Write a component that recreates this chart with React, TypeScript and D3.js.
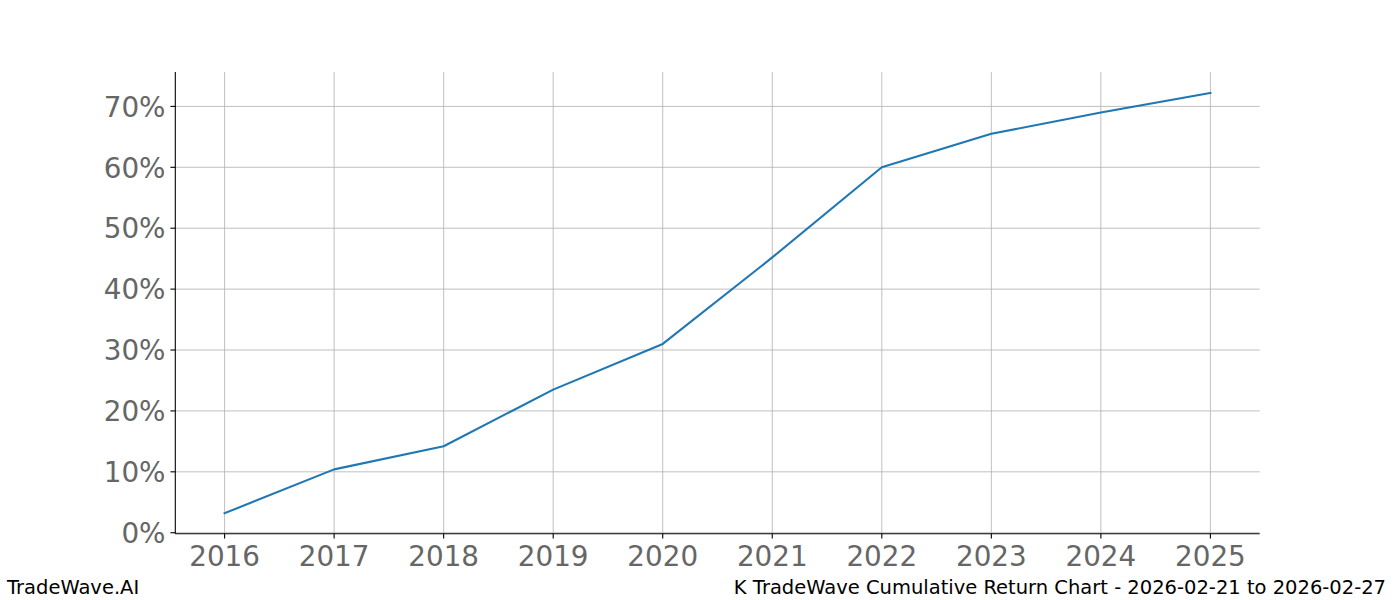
import React from "react";
import * as d3 from "d3";

const years = [2016, 2017, 2018, 2019, 2020, 2021, 2022, 2023, 2024, 2025];
const returns = [3.2, 10.4, 14.2, 23.5, 31.0, 45.2, 60.0, 65.5, 69.0, 72.2];
const yTicks = [0, 10, 20, 30, 40, 50, 60, 70];
const xTicks = [2016, 2017, 2018, 2019, 2020, 2021, 2022, 2023, 2024, 2025];
const leftLabel = "TradeWave.AI";
const rightLabel = "K TradeWave Cumulative Return Chart - 2026-02-21 to 2026-02-27";

const W = 1400;
const H = 600;
const L = 175.3;
const R = 1259.7;
const T = 72;
const B = 533.7;
const FONT = "'DejaVu Sans', sans-serif";

export default function App() {
  const x = d3.scaleLinear().domain([2015.55, 2025.45]).range([L, R]);
  const y = d3.scaleLinear().domain([-0.16, 75.65]).range([B, T]);
  const line = d3
    .line<number>()
    .x((_, i) => x(years[i]))
    .y((d) => y(d));
  const path = line(returns) || "";

  return (
    <svg
      width={W}
      height={H}
      style={{ position: "absolute", left: 0, top: 0, background: "#fff" }}
    >
      <rect x={0} y={0} width={W} height={H} fill="#fff" />
      {xTicks.map((t) => (
        <line key={"gx" + t} x1={x(t)} x2={x(t)} y1={T} y2={B} stroke="#b0b0b0" strokeWidth={0.8} />
      ))}
      {yTicks.map((t) => (
        <line key={"gy" + t} x1={L} x2={R} y1={y(t)} y2={y(t)} stroke="#b0b0b0" strokeWidth={0.8} />
      ))}
      <path d={path} fill="none" stroke="#1f77b4" strokeWidth={2.1} strokeLinejoin="round" strokeLinecap="square" />
      <line x1={L} x2={L} y1={T} y2={B} stroke="#000" strokeWidth={1.1} />
      <line x1={L} x2={R} y1={B} y2={B} stroke="#000" strokeWidth={1.1} />
      {xTicks.map((t) => (
        <g key={"tx" + t}>
          <line x1={x(t)} x2={x(t)} y1={B} y2={B + 4.9} stroke="#000" strokeWidth={1.1} />
          <text
            x={x(t)}
            y={566.3}
            textAnchor="middle"
            fontFamily={FONT}
            fontSize={27.8}
            fill="#666666"
          >
            {t}
          </text>
        </g>
      ))}
      {yTicks.map((t) => (
        <g key={"ty" + t}>
          <line x1={L - 4.9} x2={L} y1={y(t)} y2={y(t)} stroke="#000" strokeWidth={1.1} />
          <text
            x={165.5}
            y={y(t) + 10.2}
            textAnchor="end"
            fontFamily={FONT}
            fontSize={27.8}
            fill="#666666"
          >
            {t}%
          </text>
        </g>
      ))}
      <text x={7} y={593.5} fontFamily={FONT} fontSize={19.5} fill="#000">
        {leftLabel}
      </text>
      <text x={1386} y={593.5} textAnchor="end" fontFamily={FONT} fontSize={19.5} fill="#000">
        {rightLabel}
      </text>
    </svg>
  );
}
